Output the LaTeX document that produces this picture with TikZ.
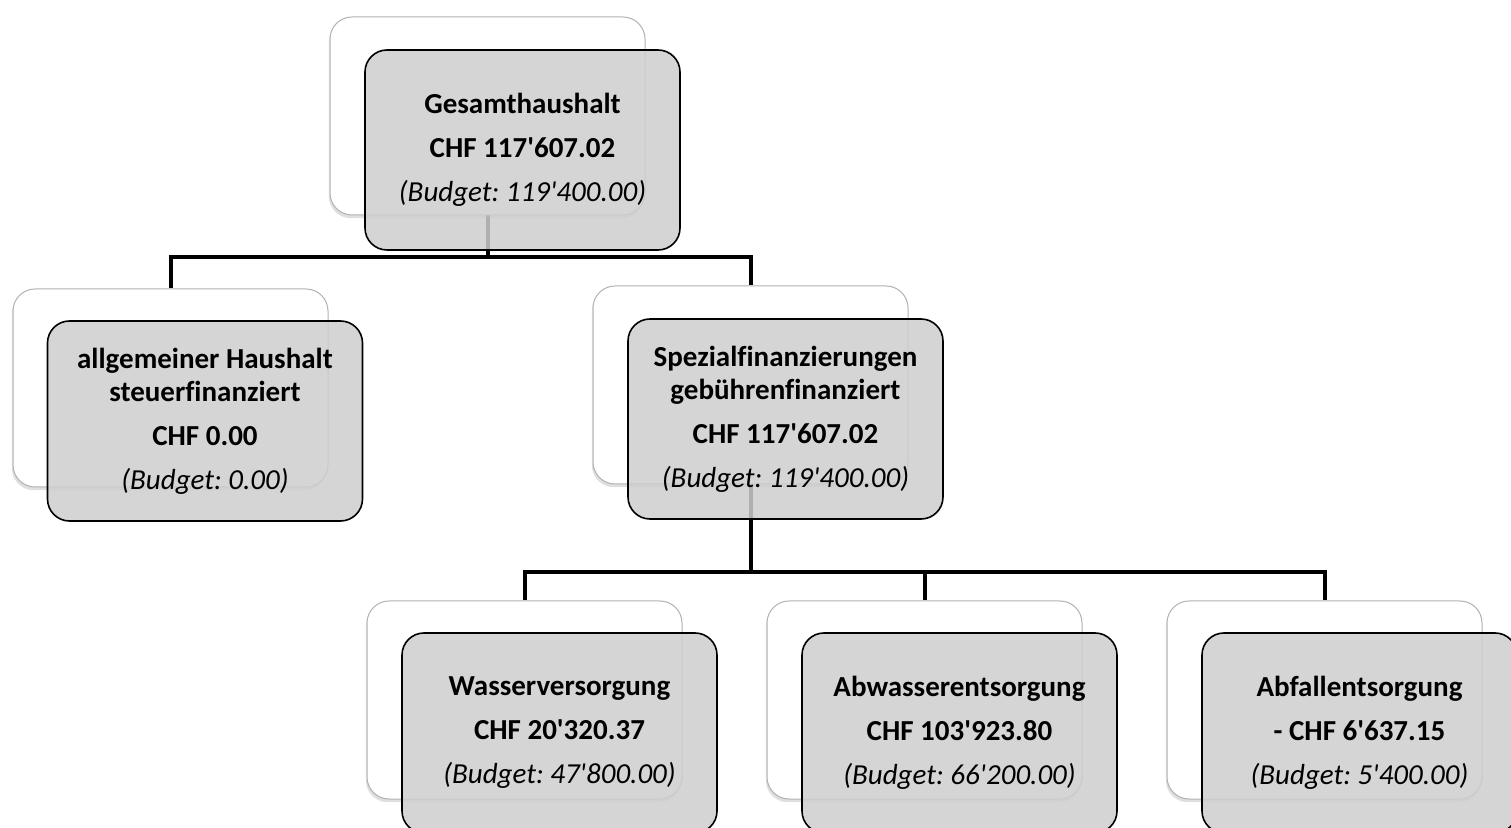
\documentclass[tikz,border=0pt]{standalone}
\usepackage{fontspec}
\setmainfont{Carlito}[Ligatures=NoCommon]
\usetikzlibrary{shadows,backgrounds}
\definecolor{cardgray}{RGB}{206,206,206}
\newcommand{\ap}{\textquotesingle}
\newcommand{\bud}[1]{\textit{\mdseries (Budget: #1)}}
\frenchspacing

\begin{document}
\begin{tikzpicture}[x=0.5pt, y=-0.5pt,
   back/.style={rectangle, rounded corners=11pt, draw=gray!60, line width=0.5pt,
      fill=white, minimum width=157.5pt, minimum height=99pt,
      drop shadow={shadow xshift=-0.6pt, shadow yshift=-1.6pt, opacity=0.25}},
   card/.style={rectangle, rounded corners=11pt, draw=black, line width=0.8pt,
      fill=cardgray, fill opacity=0.85, text opacity=1, align=center,
      minimum width=157.5pt, minimum height=100pt,
      font=\fontsize{14.5}{16.5}\selectfont\bfseries},
   link/.style={line width=2pt}]
   \useasboundingbox (0,0) rectangle (1511,828);
   % back cards
   \node (gesB) at (487.5,116) [back] {};
   \node (allB) at (170.5,388) [back] {};
   \node (spezB) at (750.5,385) [back] {};
   \node (wasB) at (524.5,700) [back] {};
   \node (abwB) at (924.5,700) [back] {};
   \node (abfB) at (1324.5,700) [back] {};
   % front cards
   \node (ges) at (522.5,150) [card] {Gesamthaushalt\\[5.5pt] CHF 117\ap607.02\\[5.5pt] \bud{119\ap400.00}};
   \node (all) at (205,421) [card] {allgemeiner Haushalt\\ steuerfinanziert\\[5.5pt] CHF 0.00\\[5.5pt] \bud{0.00}};
   \node (spez) at (785.5,419) [card] {Spezialfinanzierungen\\ gebührenfinanziert\\[5.5pt] CHF 117\ap607.02\\[5.5pt] \bud{119\ap400.00}};
   \node (was) at (559.5,733) [card] {Wasserversorgung\\[5.5pt] CHF 20\ap320.37\\[5.5pt] \bud{47\ap800.00}};
   \node (abw) at (959.5,733) [card] {Abwasserentsorgung\\[5.5pt] CHF 103\ap923.80\\[5.5pt] \bud{66\ap200.00}};
   \node (abf) at (1359.5,733) [card] {Abfallentsorgung\\[5.5pt] - CHF 6\ap637.15\\[5.5pt] \bud{5\ap400.00}};
   % connectors
   \coordinate (bus1) at (487.5,257);
   \coordinate (bus2) at (750.5,572);
   \begin{scope}[on background layer]
   \draw[link] (gesB.south) -- (bus1);
   \draw[link] (allB.north) |- (bus1) -| (spezB.north);
   \draw[link] (spezB.south) -- (bus2);
   \draw[link] (wasB.north) |- (bus2) -| (abfB.north);
   \draw[link] (abwB.north) -- (abwB.north |- bus2);
   \end{scope}
\end{tikzpicture}
\end{document}
